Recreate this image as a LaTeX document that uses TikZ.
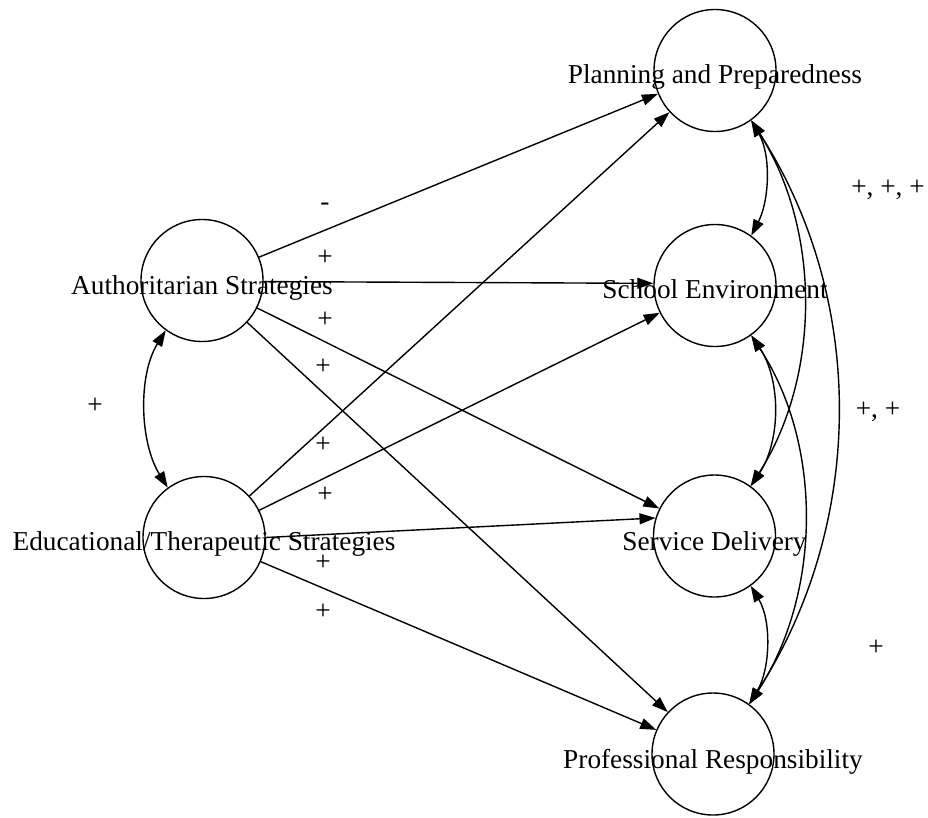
\documentclass[tikz,border=0pt]{standalone}
\usepackage{fontspec}
\setmainfont{Liberation Serif}
\usetikzlibrary{arrows.meta}
\begin{document}
\begin{tikzpicture}[x=1pt,y=-1pt,
  state/.style={circle, draw, line width=1.4pt, minimum size=122pt, inner sep=0pt},
  caption/.style={anchor=base, font=\fontsize{27.3}{32}\selectfont, inner sep=0pt},
  sign/.style={anchor=base, font=\fontsize{27.3}{32}\selectfont, inner sep=0pt},
  tip/.tip={Triangle[length=16pt,width=11pt]},
  link/.style={line width=1.4pt, -tip},
  mutual/.style={line width=1.4pt, tip-tip}]
\useasboundingbox (0,0) rectangle (928,817);

% constructs
\node[state] (plan) at (715,70.5) {};
\node[state] (auth) at (202,280.5) {};
\node[state] (edu)  at (204,537.5) {};
\node[state] (env)  at (715,285.5) {};
\node[state] (serv) at (714.5,536) {};
\node[state] (prof) at (713,754) {};

% their names
\node[caption] (planT) at (715,83.5)  {Planning and Preparedness};
\node[caption] (authT) at (202,294)   {Authoritarian Strategies};
\node[caption] (eduT)  at (204,550.5) {Educational/Therapeutic Strategies};
\node[caption] (envT)  at (715,298.5) {School Environment};
\node[caption] (servT) at (714.5,550) {Service Delivery};
\node[caption] (profT) at (713,768)   {Professional Responsibility};

% directed paths
\draw[link] (auth) -- (plan);
\draw[link] (auth.-1) -- (env.178);
\draw[link] (auth) -- (serv);
\draw[link] (auth) -- (prof);
\draw[link] (edu) -- (plan);
\draw[link] (edu) -- (env);
\draw[link] (edu.0) -- (serv.163);
\draw[link] (edu) -- (prof);

% correlations
\draw[mutual] (auth.-126) .. controls +(-28,45) and +(-28,-45) .. (edu.126);
\draw[mutual] (plan.-54) .. controls +(20,35) and +(18,-35) .. (env.54);
\draw[mutual] (plan.-54) .. controls +(70,110) and +(70,-110) .. (serv.54);
\draw[mutual] (plan.-54) .. controls +(116,180) and +(116,-180) .. (prof.54);
\draw[mutual] (env.-54) .. controls +(30,45) and +(30,-45) .. (serv.54);
\draw[mutual] (env.-54) .. controls +(72,110) and +(72,-110) .. (prof.54);
\draw[mutual] (serv.-54) .. controls +(21,35) and +(21,-35) .. (prof.54);

% signs of the effects
\node[sign] (s1) at (325,210) {-};
\node[sign] (s2) at (325,265) {+};
\node[sign] (s3) at (325,327) {+};
\node[sign] (s4) at (323,374) {+};
\node[sign] (s5) at (323,452) {+};
\node[sign] (s6) at (325,502) {+};
\node[sign] (s7) at (323,570) {+};
\node[sign] (s8) at (323,619) {+};
\node[sign] (s9) at (95,413) {+};
\node[sign] (s10) at (888,195) {+, +, +};
\node[sign] (s11) at (878,417) {+, +};
\node[sign] (s12) at (876,655) {+};
\end{tikzpicture}
\end{document}
